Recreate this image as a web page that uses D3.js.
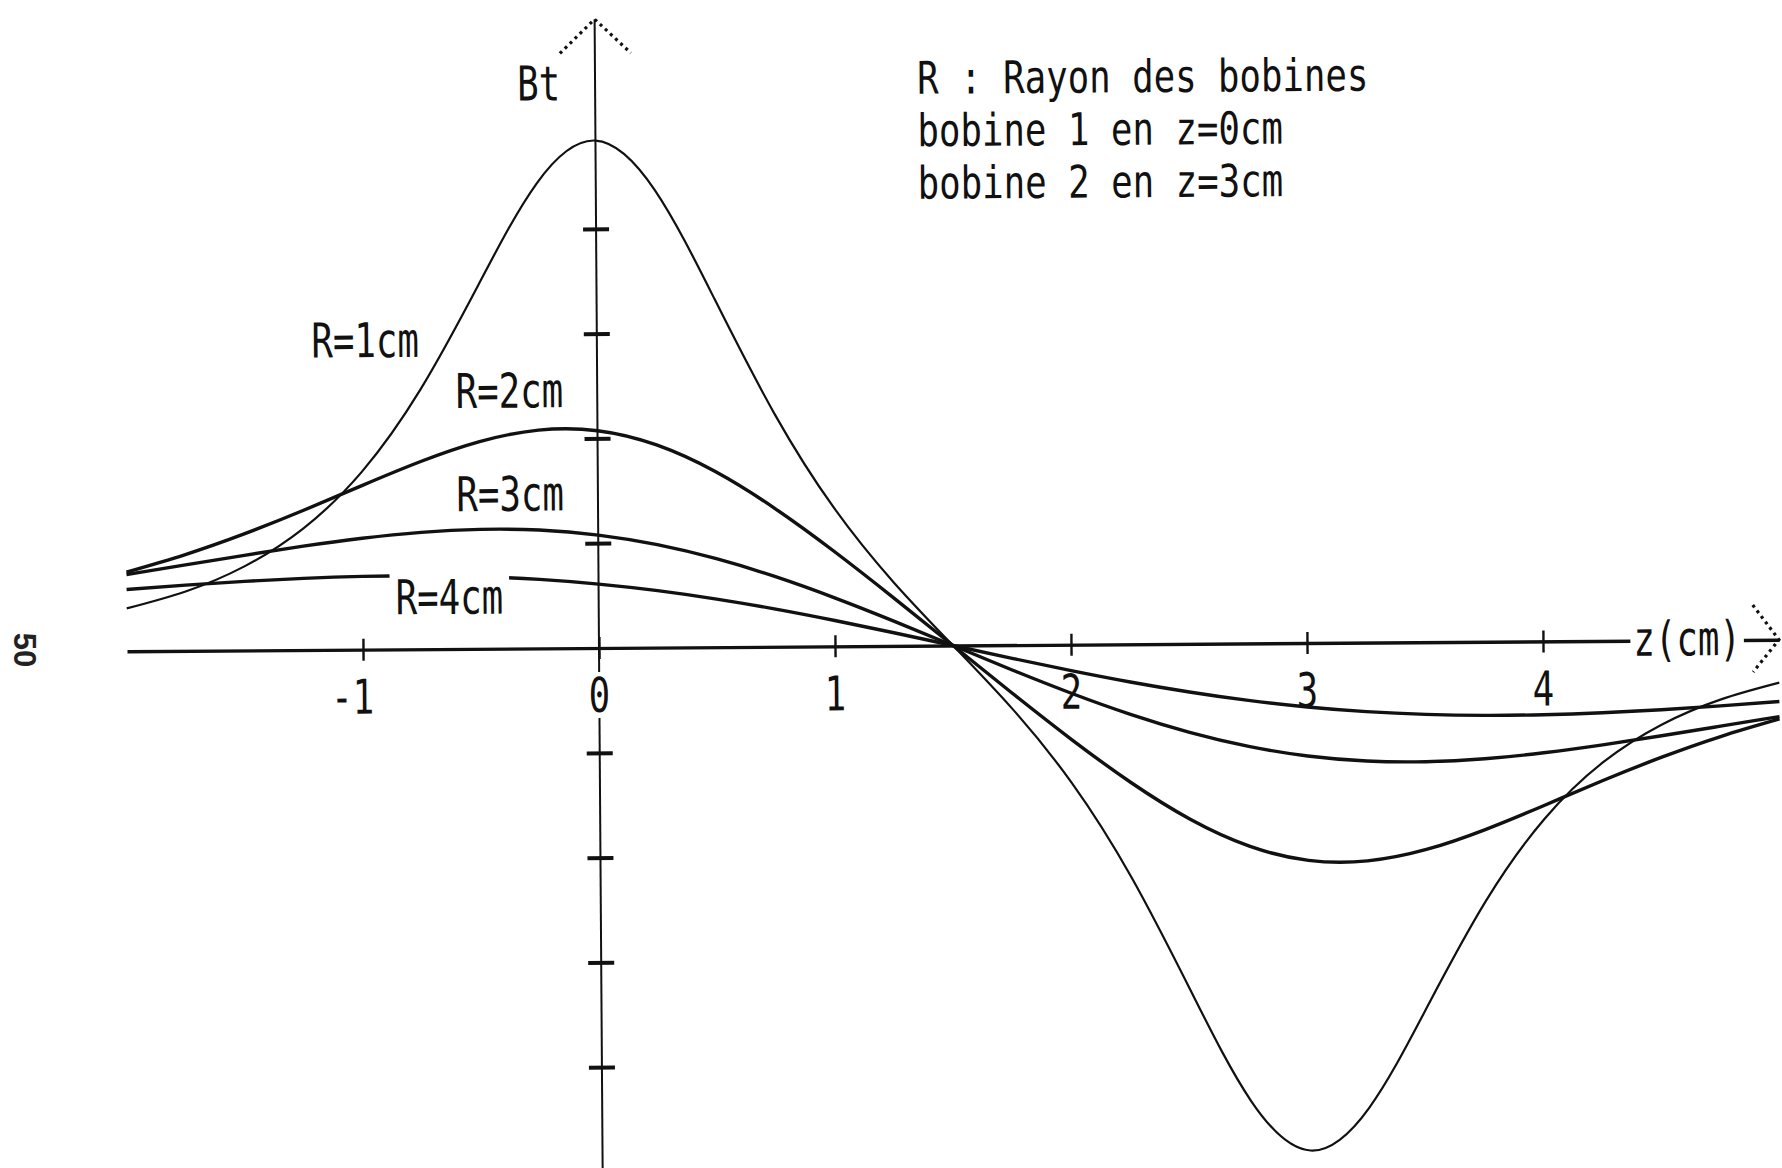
<!DOCTYPE html>
<html>
<head>
<meta charset="utf-8">
<script src="https://cdn.jsdelivr.net/npm/d3@7"></script>
<style>
  html, body { margin: 0; padding: 0; background: #fff; }
  svg { display: block; }
</style>
</head>
<body>
<svg id="chart" width="1782" height="1168"></svg>
<script>
// Positions along the common axis of the two coils (cm)
const zValues = [-2, -1.75, -1.5, -1.25, -1, -0.75, -0.5, -0.25, 0, 0.25, 0.5, 0.75, 1, 1.25, 1.5,
                 1.75, 2, 2.25, 2.5, 2.75, 3, 3.25, 3.5, 3.75, 4, 4.25, 4.5, 4.75, 5];

// Total field Bt for each coil radius
const fieldR1 = [0.0819, 0.1134, 0.1605, 0.2318, 0.3393, 0.4949, 0.6948, 0.8877, 0.9684, 0.8732, 0.6643, 0.4450, 0.2641, 0.1217, 0,
                 -0.1217, -0.2641, -0.4450, -0.6643, -0.8732, -0.9684, -0.8877, -0.6948, -0.4949, -0.3393, -0.2318, -0.1605, -0.1134, -0.0819];
const fieldR2 = [0.1512, 0.1839, 0.2225, 0.2663, 0.3131, 0.3583, 0.3955, 0.4165, 0.4147, 0.3868, 0.3347, 0.2638, 0.1810, 0.0918, 0,
                 -0.0918, -0.1810, -0.2638, -0.3347, -0.3868, -0.4147, -0.4165, -0.3955, -0.3583, -0.3131, -0.2663, -0.2225, -0.1839, -0.1512];
const fieldR3 = [0.1466, 0.1641, 0.1816, 0.1983, 0.2126, 0.2231, 0.2280, 0.2259, 0.2155, 0.1964, 0.1688, 0.1337, 0.0926, 0.0474, 0,
                 -0.0474, -0.0926, -0.1337, -0.1688, -0.1964, -0.2155, -0.2259, -0.2280, -0.2231, -0.2126, -0.1983, -0.1816, -0.1641, -0.1466];
const fieldR4 = [0.1179, 0.1254, 0.1319, 0.1369, 0.1399, 0.1403, 0.1377, 0.1317, 0.1220, 0.1087, 0.0918, 0.0719, 0.0494, 0.0252, 0,
                 -0.0252, -0.0494, -0.0719, -0.0918, -0.1087, -0.1220, -0.1317, -0.1377, -0.1403, -0.1399, -0.1369, -0.1319, -0.1254, -0.1179];

const seriesNames = ["R=1cm", "R=2cm", "R=3cm", "R=4cm"];
const xTickValues = [-1, 0, 1, 2, 3, 4];
const xTickLabels = ["-1", "0", "1", "2", "3", "4"];
const yTickValues = [-0.8, -0.6, -0.4, -0.2, 0.2, 0.4, 0.6, 0.8];
const noteLines = ["R : Rayon des bobines", "bobine 1 en z=0cm", "bobine 2 en z=3cm"];
const yTitle = "Bt";
const xTitle = "z(cm)";
const pageNumber = "50";

// ---------------------------------------------------------------------------
const W = 1782, H = 1168;
const FONT = "'DejaVu Sans Mono', 'Liberation Mono', monospace";
const FS = 48;        // glyph height of the plotter lettering
const NOTE_FS = 45;   // slightly smaller lettering for the stacked note lines
const CHAR_W = 21.5;  // narrow plotter character pitch
const INK = "#111";

const x = d3.scaleLinear().domain([-2, 5]).range([127, 1779]);
const y = d3.scaleLinear().domain([-1, 1]).range([1172, 124]);

const svg = d3.select("#chart");
svg.append("rect").attr("width", W).attr("height", H).attr("fill", "#fff");

// the plotted sheet sits with a very slight tilt
const g = svg.append("g").attr("transform", `rotate(-0.4 ${x(0)} ${y(0)})`);

function plotText(parent, str, px, py, anchor, size) {
  return parent.append("text")
    .attr("x", px).attr("y", py)
    .attr("text-anchor", anchor || "start")
    .attr("font-family", FONT)
    .attr("font-size", size || FS)
    .attr("fill", INK)
    .attr("textLength", str.length * CHAR_W)
    .attr("lengthAdjust", "spacingAndGlyphs")
    .text(str);
}

// ---- curves ---------------------------------------------------------------
const series = [fieldR1, fieldR2, fieldR3, fieldR4].map((vals, i) => ({
  name: seriesNames[i],
  points: zValues.map((z, k) => ({ z, b: vals[k] }))
}));

const line = d3.line()
  .x(d => x(d.z))
  .y(d => y(d.b))
  .curve(d3.curveNatural);

g.append("g").selectAll("path")
  .data(series)
  .join("path")
  .attr("d", d => line(d.points))
  .attr("fill", "none")
  .attr("stroke", INK)
  .attr("stroke-width", (d, i) => i === 0 ? 2.2 : 3.4)
  .attr("stroke-linejoin", "round");

// ---- x axis ---------------------------------------------------------------
const xAxis = d3.axisBottom(x)
  .tickValues(xTickValues)
  .tickFormat((d, i) => xTickLabels[i])
  .tickSize(0)
  .tickSizeOuter(0);

const gx = g.append("g")
  .attr("transform", `translate(0,${y(0)})`)
  .call(xAxis);

gx.select(".domain").attr("stroke", INK).attr("stroke-width", 3.4);
gx.selectAll(".tick line")
  .attr("y1", -11).attr("y2", 11)
  .attr("stroke", INK).attr("stroke-width", 2.4);
gx.selectAll(".tick text").remove();

// ---- y axis ---------------------------------------------------------------
const yAxis = d3.axisLeft(y)
  .tickValues(yTickValues)
  .tickFormat("")
  .tickSize(0)
  .tickSizeOuter(0);

const gy = g.append("g")
  .attr("transform", `translate(${x(0)},0)`)
  .call(yAxis);

gy.select(".domain").remove();
gy.append("line")
  .attr("x1", 0).attr("x2", 0)
  .attr("y1", y(1.2)).attr("y2", y(-1))
  .attr("stroke", INK).attr("stroke-width", 2);
gy.selectAll(".tick line")
  .attr("x1", -13).attr("x2", 13)
  .attr("stroke", INK).attr("stroke-width", 4);

// dotted arrow heads
const arrow = g.append("g")
  .attr("fill", "none").attr("stroke", INK)
  .attr("stroke-width", 3.2).attr("stroke-dasharray", "3 4");
arrow.append("path")
  .attr("d", `M${x(0) - 35},${y(1.2) + 34} L${x(0)},${y(1.2)} L${x(0) + 36},${y(1.2) + 34}`);
arrow.append("path")
  .attr("d", `M${x(5) - 26},${y(0) - 35} L${x(5)},${y(0)} L${x(5) - 26},${y(0) + 32}`);

// ---- tick labels ----------------------------------------------------------
xTickValues.forEach((v, i) => {
  const str = xTickLabels[i];
  // centre the digit on the tick; a leading sign sits to its left
  const cx = x(v) - (str.length - 1) * CHAR_W / 2;
  if (v === 0) {
    g.append("rect")
      .attr("x", cx - 14).attr("y", y(0) + 24)
      .attr("width", 28).attr("height", 46)
      .attr("fill", "#fff");
  }
  plotText(g, str, cx, y(0) + 64, "middle");
});

// ---- axis titles ----------------------------------------------------------
plotText(g, yTitle, x(0) - 78, 100);

const xTitleLeft = x(4.4) - 4;
g.append("rect")
  .attr("x", xTitleLeft - 3).attr("y", y(0) - 30)
  .attr("width", xTitle.length * CHAR_W + 6).attr("height", 54)
  .attr("fill", "#fff");
plotText(g, xTitle, xTitleLeft, y(0) + 15);

// ---- series labels --------------------------------------------------------
const labelAnchors = [
  { z: -1.21, b: 0.558 },
  { z: -0.60, b: 0.460 },
  { z: -0.60, b: 0.263 },
  { z: -0.86, b: 0.067 }
];
seriesNames.forEach((name, i) => {
  const a = labelAnchors[i];
  if (i === 3) {
    // the R=4cm trace is broken where its label is written
    g.append("rect")
      .attr("x", x(a.z) - 6).attr("y", y(a.b) - 46)
      .attr("width", name.length * CHAR_W + 12).attr("height", 52)
      .attr("fill", "#fff");
  }
  plotText(g, name, x(a.z), y(a.b));
});

// ---- note block -----------------------------------------------------------
noteLines.forEach((str, i) => {
  plotText(g, str, 921, 96 + i * 52.5, "start", NOTE_FS);
});

// ---- page number ----------------------------------------------------------
svg.append("text")
  .attr("transform", "translate(14,650) rotate(90)")
  .attr("text-anchor", "middle")
  .attr("font-family", "'Liberation Sans', Arial, sans-serif")
  .attr("font-weight", "bold")
  .attr("font-size", 31)
  .attr("fill", "#222")
  .text(pageNumber);
</script>
</body>
</html>
